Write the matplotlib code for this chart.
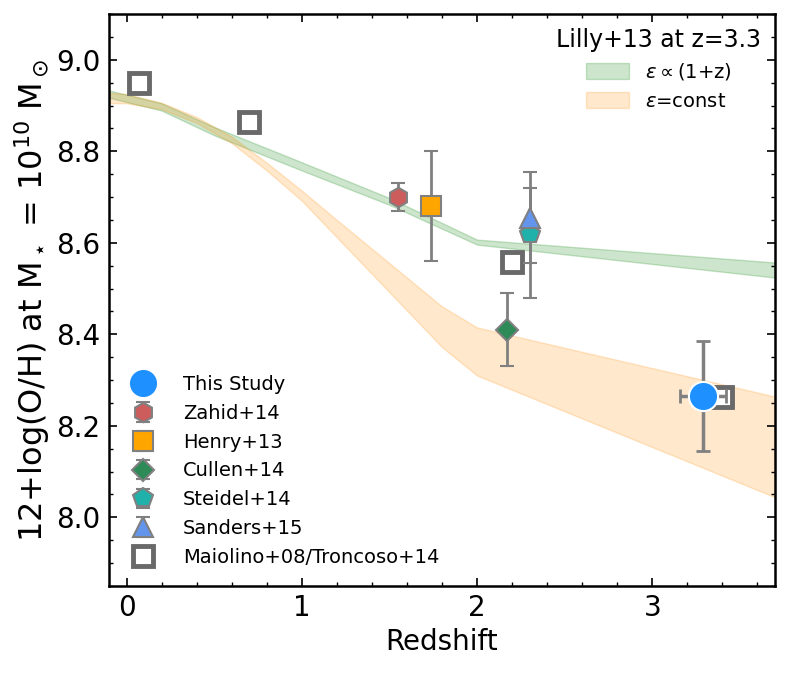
import matplotlib
matplotlib.use('Agg')
import matplotlib.pyplot as plt
from matplotlib.ticker import MultipleLocator

# Lilly+13 model bands
z_green = [-0.1, 0.2, 0.5, 1.0, 1.5, 2.0, 3.7]
green_hi = [8.933, 8.905, 8.853, 8.776, 8.698, 8.607, 8.557]
green_lo = [8.917, 8.889, 8.835, 8.758, 8.683, 8.596, 8.524]

z_orange = [-0.1, 0.0, 0.2, 0.4, 0.6, 0.8, 1.0, 1.2, 1.4, 1.6, 1.8, 2.0, 3.7]
orange_hi = [8.928, 8.925, 8.906, 8.875, 8.832, 8.775, 8.714, 8.650, 8.587, 8.524, 8.461, 8.415, 8.264]
orange_lo = [8.905, 8.905, 8.892, 8.862, 8.818, 8.758, 8.692, 8.612, 8.532, 8.452, 8.372, 8.310, 8.044]

# observations
this_z, this_oh, this_zerr, this_oherr = 3.29, 8.265, 0.13, 0.12
zahid_z, zahid_oh, zahid_err = 1.55, 8.70, 0.03
henry_z, henry_oh, henry_err = 1.74, 8.68, 0.12
cullen_z, cullen_oh, cullen_err = 2.17, 8.41, 0.08
steidel_z, steidel_oh, steidel_lo, steidel_hi = 2.30, 8.62, 0.14, 0.10
sanders_z, sanders_oh, sanders_err = 2.30, 8.655, 0.10
maiolino_z = [0.07, 0.70, 2.20, 3.40]
maiolino_oh = [8.95, 8.865, 8.558, 8.262]

fig = plt.figure(figsize=(7.89, 6.73), dpi=100)
ax = fig.add_axes([109/789, 87/673, 666/789, 572/673])

gband = ax.fill_between(z_green, green_lo, green_hi, color='g', alpha=0.2,
                        label=r'$\varepsilon{\propto}$(1+z)')
oband = ax.fill_between(z_orange, orange_lo, orange_hi, color='darkorange', alpha=0.2,
                        label=r'$\varepsilon$=const')

eb = dict(ls='none', ecolor='gray', elinewidth=2, capsize=5, capthick=2,
          mec='gray', mew=1.5)

maio = ax.plot(maiolino_z, maiolino_oh, 's', ms=15, mfc='white', mec='dimgray',
               mew=3.5, label='Maiolino+08/Troncoso+14')[0]
zah = ax.errorbar(zahid_z, zahid_oh, yerr=zahid_err, fmt='h', ms=14,
                  color='indianred', label='Zahid+14', **eb)
hen = ax.errorbar(henry_z, henry_oh, yerr=henry_err, fmt='s', ms=14,
                  color='orange', label='Henry+13', **eb)
cul = ax.errorbar(cullen_z, cullen_oh, yerr=cullen_err, fmt='D', ms=11,
                  color='seagreen', label='Cullen+14', **eb)
ste = ax.errorbar(steidel_z, steidel_oh, yerr=[[steidel_lo], [steidel_hi]], fmt='p',
                  ms=15, color='lightseagreen', label='Steidel+14', **eb)
san = ax.errorbar(sanders_z, sanders_oh, yerr=sanders_err, fmt='^', ms=14,
                  color='cornflowerblue', label='Sanders+15', **eb)
ax.errorbar(this_z, this_oh, xerr=this_zerr, yerr=this_oherr, fmt='none',
            ecolor='gray', elinewidth=2.5, capsize=5, capthick=2, zorder=5)
this = ax.plot(this_z, this_oh, 'o', ms=21, color='dodgerblue', mec='white',
               mew=1.5, zorder=6, label='This Study')[0]

ax.set_xlim(-0.1, 3.7)
ax.set_ylim(7.85, 9.1)
ax.xaxis.set_major_locator(MultipleLocator(1))
ax.xaxis.set_minor_locator(MultipleLocator(0.2))
ax.yaxis.set_major_locator(MultipleLocator(0.2))
ax.yaxis.set_minor_locator(MultipleLocator(0.05))
ax.tick_params(which='both', direction='in', top=True, right=True, labelsize=20, pad=6)
ax.tick_params(which='major', length=6, width=1.2)
ax.tick_params(which='minor', length=3, width=1)
for s in ax.spines.values():
    s.set_linewidth(1.8)

ax.set_xlabel('Redshift', fontsize=20, labelpad=4)
ax.set_ylabel(r'12+log(O/H) at M$_\star$ = 10$^{10}$ M$_\odot$', fontsize=23, labelpad=3)

leg1 = ax.legend(handles=[gband, oband], loc='upper right', frameon=False,
                 fontsize=14, title='Lilly+13 at z=3.3', title_fontsize=17,
                 handlelength=2.2, handleheight=0.9, borderaxespad=0.3)
ax.add_artist(leg1)
ax.legend(handles=[this, zah, hen, cul, ste, san, maio], loc='lower left',
          frameon=False, fontsize=14, numpoints=1, handlelength=1.5,
          handletextpad=1.3, labelspacing=0.5, borderaxespad=0.6)

fig.savefig('out.png', dpi=100)
